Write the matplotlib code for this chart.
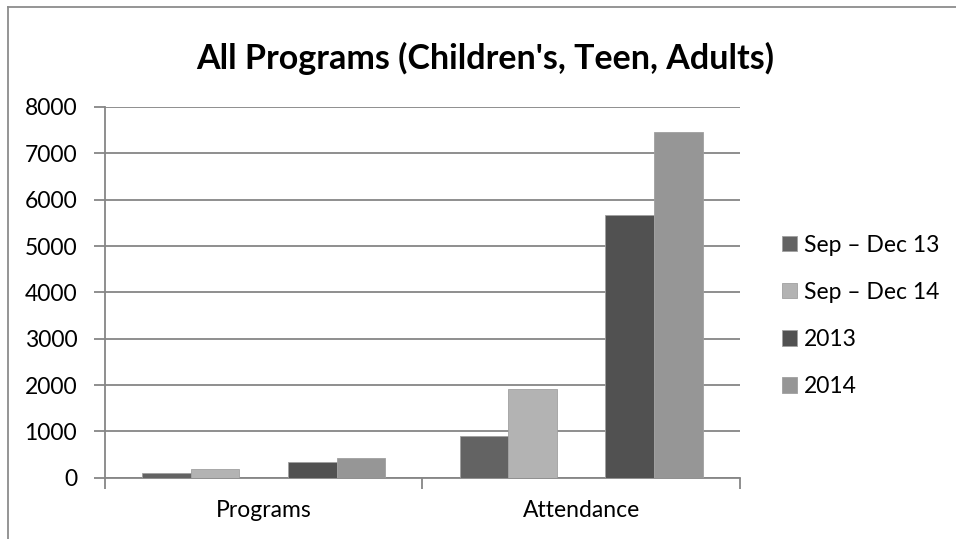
import numpy as np
import matplotlib.pyplot as plt
from matplotlib.lines import Line2D

categories = ['Programs', 'Attendance']
series = ['Sep \u2013 Dec 13', 'Sep \u2013 Dec 14', '2013', '2014']
sep_dec_13 = [105, 890]
sep_dec_14 = [185, 1925]
y2013 = [345, 5660]
y2014 = [430, 7450]
colors = ['#636363', '#b3b3b3', '#515151', '#969696']

plt.rcParams['font.family'] = ['Lato', 'DejaVu Sans']

fig = plt.figure(figsize=(9.56, 5.39), dpi=100)
ax = fig.add_axes([0.1098, 0.1137, 0.774 - 0.1098, 0.8015 - 0.1137])

x = np.arange(len(categories))
w = 0.153
slots = [-2, -1, 1, 2]  # Excel layout leaves the middle slot empty
vals = [sep_dec_13, sep_dec_14, y2013, y2014]
handles = []
for s, v, c, lab in zip(slots, vals, colors, series):
    b = ax.bar(x + s * w, v, w, color=c, edgecolor='#a0a0a0', linewidth=0.6, label=lab, zorder=3)
    handles.append(b)

fs = 16.5
grid = '#868686'
ax.set_xlim(-0.5, 1.5)
ax.set_ylim(0, 8000)
ax.set_yticks(range(0, 8001, 1000))
ax.yaxis.grid(True, color=grid, linewidth=1.3, zorder=0)
ax.set_xticks([-0.5, 0.5, 1.5])
ax.set_xticklabels([])
ax.set_xticks(x, minor=True)
ax.set_xticklabels(categories, minor=True)
ax.tick_params(axis='x', which='minor', length=0, pad=16, labelsize=fs)
ax.tick_params(axis='x', which='major', length=8, width=1.3, color=grid)
ax.tick_params(axis='y', length=8, width=1.3, color=grid, labelsize=fs, pad=12)
for side in ['top', 'right']:
    ax.spines[side].set_visible(False)
for side in ['left', 'bottom']:
    ax.spines[side].set_color(grid)
    ax.spines[side].set_linewidth(1.3)

fig.text(0.508, 0.892, "All Programs (Children's, Teen, Adults)", ha='center', va='center',
         fontsize=24.5, fontweight='bold')

fig.legend(handles, series, loc='center left', bbox_to_anchor=(0.806, 0.414), frameon=False,
           fontsize=fs, handlelength=0.65, handleheight=0.65, handletextpad=0.3,
           labelspacing=1.14, borderpad=0)

# chart border (left and top edges visible)
fig.add_artist(Line2D([8 / 956, 8 / 956], [0, 1 - 7 / 539], color='#8c8c8c', linewidth=1.3))
fig.add_artist(Line2D([8 / 956, 1], [1 - 7 / 539, 1 - 7 / 539], color='#8c8c8c', linewidth=1.3))

fig.savefig('out.png', dpi=100)
